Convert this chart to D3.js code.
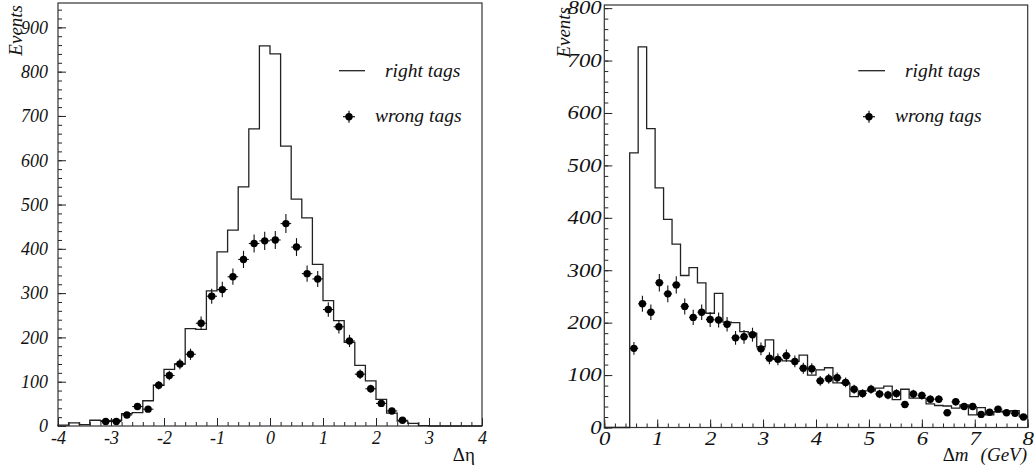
<!DOCTYPE html>
<html>
<head>
<meta charset="utf-8">
<script src="https://cdn.jsdelivr.net/npm/d3@7"></script>
<style>
  html, body { margin: 0; padding: 0; background: #fff; }
  svg { display: block; }
  text { font-family: "Liberation Serif", "Times New Roman", serif; fill: #111; }
  text.tl { font-family: "Liberation Serif", "Times New Roman", serif !important; font-style: italic !important; font-size: 18px !important; fill: #111 !important; }
  text.it { font-style: italic; }
</style>
</head>
<body>
<svg id="chart" width="1034" height="473"></svg>
<script>
// ---------------- DATA ----------------
// Left panel: Delta eta, 40 bins of 0.2 from -4 to 4
const etaBinStart = -4;
const etaBinWidth = 0.2;
const etaRightTags = [2, 7, 3, 13, 12, 13, 28, 30, 57, 92,
                      128, 140, 220, 218, 305, 393, 442, 540, 671, 858,
                      840, 632, 512, 470, 365, 283, 238, 189, 137, 102,
                      60, 29, 11, 6, 1, 0, 0, 0, 0, 0];
const etaWrongX = [-3.1, -2.9, -2.7, -2.5, -2.3, -2.1, -1.9, -1.7, -1.5, -1.3,
                   -1.1, -0.9, -0.7, -0.5, -0.3, -0.1, 0.1, 0.3, 0.5, 0.7,
                   0.9, 1.1, 1.3, 1.5, 1.7, 1.9, 2.1, 2.3, 2.5];
const etaWrongTags = [10, 10, 25, 44, 38, 92, 114, 140, 162, 232,
                      293, 308, 337, 376, 412, 418, 420, 457, 404, 344,
                      332, 263, 224, 192, 117, 84, 51, 34, 13];
const etaTickLabels = ["-4", "-3", "-2", "-1", "0", "1", "2", "3", "4"];

// Right panel: Delta m, 50 bins of 0.16 from 0 to 8
const dmBinStart = 0;
const dmBinWidth = 0.16;
const dmRightTags = [0, 0, 0, 524, 726, 570, 457, 397, 350, 290,
                     305, 276, 218, 256, 201, 200, 183, 180, 154, 167,
                     130, 127, 126, 138, 100, 110, 114, 85, 84, 59,
                     70, 70, 75, 79, 53, 73, 56, 56, 45, 42,
                     41, 37, 43, 24, 38, 24, 30, 31, 32, 21];
const dmWrongX = [0.56, 0.72, 0.88, 1.04, 1.20, 1.36, 1.52, 1.68, 1.84, 2.00,
                  2.16, 2.32, 2.48, 2.64, 2.80, 2.96, 3.12, 3.28, 3.44, 3.60,
                  3.76, 3.92, 4.08, 4.24, 4.40, 4.56, 4.72, 4.88, 5.04, 5.20,
                  5.36, 5.52, 5.68, 5.84, 6.00, 6.16, 6.32, 6.48, 6.64, 6.80,
                  6.96, 7.12, 7.28, 7.44, 7.60, 7.76, 7.92];
const dmWrongTags = [151, 236, 220, 276, 255, 272, 231, 210, 220, 206,
                     205, 197, 171, 173, 177, 150, 132, 130, 137, 126,
                     113, 112, 89, 93, 95, 86, 73, 65, 73, 64,
                     62, 65, 44, 64, 61, 54, 54, 28, 49, 40,
                     40, 25, 29, 35, 28, 27, 20];
const dmTickLabels = ["0", "1", "2", "3", "4", "5", "6", "7", "8"];

const legendLabels = ["right tags", "wrong tags"];
const yTitle = "Events";

// ---------------- DRAW ----------------
const svg = d3.select("#chart");

function panel(cfg) {
  const g = svg.append("g");
  const x = d3.scaleLinear().domain(cfg.xDomain).range([cfg.left, cfg.right]);
  const y = d3.scaleLinear().domain(cfg.yDomain).range([cfg.bottom, cfg.top]);

  // minor ticks
  const xMinor = d3.range(cfg.xDomain[0], cfg.xDomain[1] + 1e-9, 0.2);
  const yMinor = d3.range(0, cfg.yDomain[1], 20);
  g.append("g").attr("transform", `translate(0,${cfg.bottom})`)
    .call(d3.axisBottom(x).tickValues(xMinor).tickSize(-4).tickFormat(""))
    .call(a => a.select(".domain").remove())
    .selectAll("line").attr("stroke", "#222");
  g.append("g").attr("transform", `translate(${cfg.left},0)`)
    .call(d3.axisLeft(y).tickValues(yMinor).tickSize(-4).tickFormat(""))
    .call(a => a.select(".domain").remove())
    .selectAll("line").attr("stroke", "#222");

  // major ticks + labels
  const xMajor = cfg.tickLabels.map(Number);
  const xa = g.append("g").attr("transform", `translate(0,${cfg.bottom})`)
    .call(d3.axisBottom(x).tickValues(xMajor).tickSize(-8).tickPadding(cfg.xPad)
      .tickFormat((d, i) => cfg.tickLabels[i]));
  xa.attr("font-family", null).attr("font-size", null);
  xa.select(".domain").remove();
  xa.selectAll("line").attr("stroke", "#222");
  xa.selectAll("text").attr("class", "tl").attr("transform", `scale(${cfg.labelSX},1)`);

  const yMajor = d3.range(0, cfg.yDomain[1], 100);
  const ya = g.append("g").attr("transform", `translate(${cfg.left},0)`)
    .call(d3.axisLeft(y).tickValues(yMajor).tickSize(-8).tickPadding(cfg.yPad).tickFormat(d3.format("d")));
  ya.attr("font-family", null).attr("font-size", null);
  ya.select(".domain").remove();
  ya.selectAll("line").attr("stroke", "#222");
  ya.selectAll("text").attr("class", "tl").attr("transform", `scale(${cfg.labelSX},1)`);

  // frame
  g.append("rect").attr("x", cfg.left).attr("y", cfg.top)
    .attr("width", cfg.right - cfg.left).attr("height", cfg.bottom - cfg.top)
    .attr("fill", "none").attr("stroke", "#333").attr("stroke-width", 1.2);

  // histogram step line
  const p = d3.path();
  p.moveTo(x(cfg.binStart), y(0));
  cfg.hist.forEach((v, i) => {
    const lo = cfg.binStart + i * cfg.binWidth, hi = lo + cfg.binWidth;
    p.lineTo(x(lo), y(v));
    p.lineTo(x(hi), y(v));
  });
  if (cfg.closeToZero) p.lineTo(x(cfg.binStart + cfg.hist.length * cfg.binWidth), y(0));
  g.append("path").attr("d", p.toString()).attr("fill", "none")
    .attr("stroke", "#222").attr("stroke-width", 1.3);

  // data points with error bars
  const pts = cfg.ptsX.map((px, i) => ({ x: px, v: cfg.ptsV[i] }));
  const pg = g.append("g");
  pg.selectAll("line.ev").data(pts).join("line").attr("class", "ev")
    .attr("x1", d => x(d.x)).attr("x2", d => x(d.x))
    .attr("y1", d => y(d.v - Math.sqrt(d.v))).attr("y2", d => y(d.v + Math.sqrt(d.v)))
    .attr("stroke", "#111").attr("stroke-width", 1.1);
  pg.selectAll("line.eh").data(pts).join("line").attr("class", "eh")
    .attr("x1", d => x(d.x - cfg.binWidth / 2)).attr("x2", d => x(d.x + cfg.binWidth / 2))
    .attr("y1", d => y(d.v)).attr("y2", d => y(d.v))
    .attr("stroke", "#111").attr("stroke-width", 1.1);
  pg.selectAll("circle").data(pts).join("circle")
    .attr("cx", d => x(d.x)).attr("cy", d => y(d.v)).attr("r", 3.7).attr("fill", "#000");

  // Y title
  g.append("text").attr("class", "it")
    .attr("transform", `translate(${cfg.titleX},${cfg.titleY}) rotate(-90)`)
    .attr("text-anchor", "end").style("font-size", "19px")
    .text(yTitle);

  // legend
  const L = cfg.legend;
  g.append("line").attr("x1", L.lineX1).attr("x2", L.lineX2).attr("y1", L.y1).attr("y2", L.y1)
    .attr("stroke", "#222").attr("stroke-width", 1.3);
  g.append("text").attr("class", "it").attr("x", L.text1X).attr("y", L.y1 + 6.6)
    .style("font-size", "19.5px").text(legendLabels[0]);
  g.append("line").attr("x1", L.markX - 6).attr("x2", L.markX + 6).attr("y1", L.y2).attr("y2", L.y2)
    .attr("stroke", "#111").attr("stroke-width", 1.2);
  g.append("line").attr("x1", L.markX).attr("x2", L.markX).attr("y1", L.y2 - 6).attr("y2", L.y2 + 6)
    .attr("stroke", "#111").attr("stroke-width", 1.2);
  g.append("circle").attr("cx", L.markX).attr("cy", L.y2).attr("r", 3.7).attr("fill", "#000");
  g.append("text").attr("class", "it").attr("x", L.text2X).attr("y", L.y2 + 5)
    .style("font-size", "19.5px").text(legendLabels[1]);

  return { g, x, y };
}

const left = panel({
  left: 58, right: 482, top: 3, bottom: 426,
  xDomain: [-4, 4], yDomain: [0, 955],
  binStart: etaBinStart, binWidth: etaBinWidth, hist: etaRightTags, closeToZero: true,
  ptsX: etaWrongX, ptsV: etaWrongTags,
  tickLabels: etaTickLabels, labelSX: 1, xPad: 5, yPad: 10,
  titleX: 21.5, titleY: 5,
  legend: { lineX1: 339, lineX2: 365, y1: 70.7, text1X: 385, markX: 349, y2: 116.7, text2X: 375 }
});
left.g.append("text").attr("x", 475).attr("y", 461).attr("text-anchor", "end")
  .style("font-size", "19px").text("Δη");

const right = panel({
  left: 604.3, right: 1027.7, top: 5, bottom: 427.5,
  xDomain: [0, 8], yDomain: [0, 806],
  binStart: dmBinStart, binWidth: dmBinWidth, hist: dmRightTags, closeToZero: false,
  ptsX: dmWrongX, ptsV: dmWrongTags,
  tickLabels: dmTickLabels, labelSX: 1.27, xPad: 5, yPad: 2,
  titleX: 570, titleY: 7,
  legend: { lineX1: 858.3, lineX2: 885, y1: 70.7, text1X: 905, markX: 869, y2: 116.7, text2X: 895 }
});
const t = right.g.append("text").attr("x", 1027).attr("y", 461).attr("text-anchor", "end").style("font-size", "19px");
t.append("tspan").text("Δ");
t.append("tspan").style("font-style", "italic").text("m");
t.append("tspan").style("font-style", "italic").attr("dx", 12).text("(GeV)");
</script>
</body>
</html>
